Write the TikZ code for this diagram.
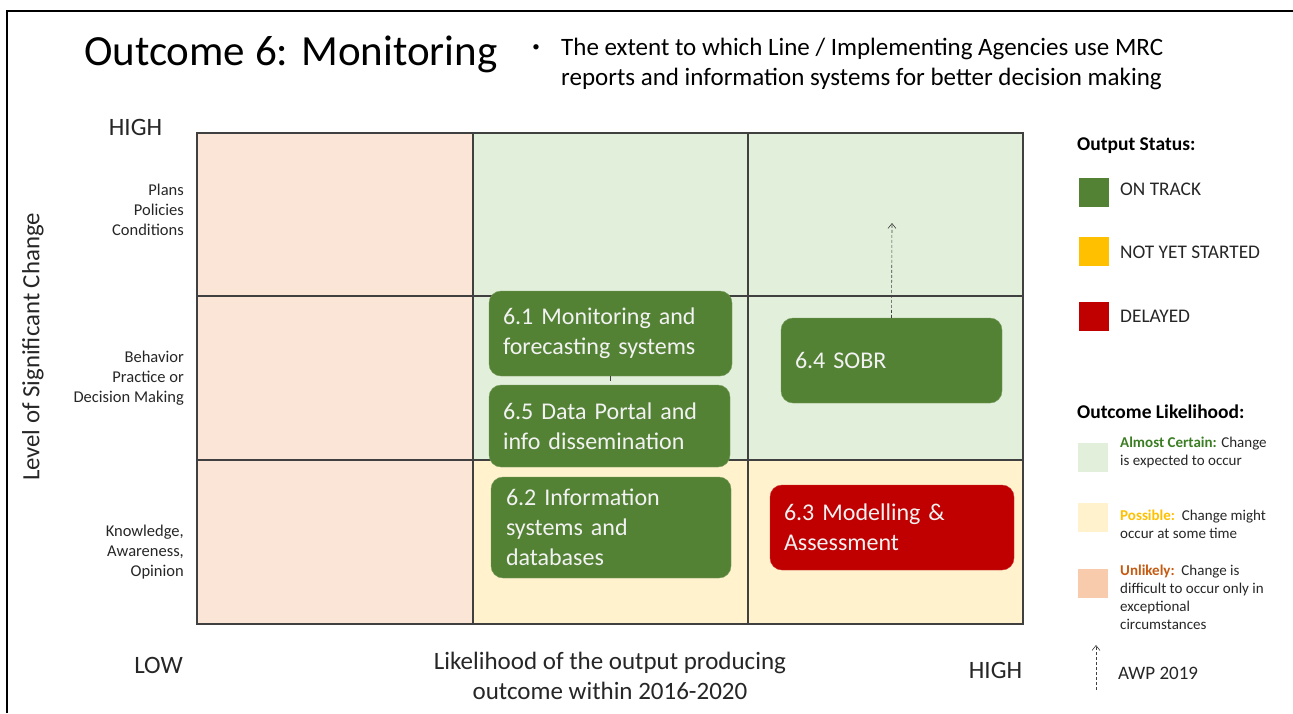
\documentclass[tikz,border=0pt]{standalone}
\usepackage{fontspec}
\setmainfont{Carlito}
\usetikzlibrary{arrows.meta}
\definecolor{ontrack}{HTML}{548235}
\definecolor{delayed}{HTML}{C00000}
\definecolor{notyet}{HTML}{FFC000}
\definecolor{cellgreen}{HTML}{E2EFDA}
\definecolor{cellyellow}{HTML}{FFF2CC}
\definecolor{cellpeach}{HTML}{FBE5D6}
\definecolor{legpeach}{HTML}{F8CBAD}
\definecolor{gridline}{HTML}{404040}
\definecolor{txt}{HTML}{262626}
\definecolor{boxtxt}{HTML}{F2F2F2}
\definecolor{certaincol}{HTML}{3B7D23}
\definecolor{unlikelycol}{HTML}{C55A11}
\tikzset{
  outbox/.style={rounded corners=12pt, inner xsep=14pt, inner ysep=0pt, align=left,
     text=boxtxt, font=\fontsize{24}{30}\selectfont, anchor=center},
  greenbox/.style={outbox, fill=ontrack, draw=ontrack!80!white},
  redbox/.style={outbox, fill=delayed, draw=delayed!80!white},
  plain/.style={inner sep=0pt, text=txt},
  axlab/.style={plain, font=\fontsize{25}{30}\selectfont},
  rowlab/.style={plain, align=right, anchor=east, font=\fontsize{16.5}{20}\selectfont},
  legtxt/.style={plain, anchor=west, font=\fontsize{19.3}{22}\selectfont},
  leghead/.style={plain, anchor=west, text=black, font=\bfseries\fontsize{19.5}{22}\selectfont},
  legsmall/.style={plain, anchor=north west, align=left, font=\fontsize{15}{18}\selectfont},
  awparrow/.style={densely dashed, line width=0.6pt, gridline, -{Straight Barb[length=5pt,width=8pt]}},
}
\begin{document}
\begin{tikzpicture}[x=1pt,y=-1pt]
\useasboundingbox (0,0) rectangle (1293,713);
% frame
\draw[line width=2pt, black] (7,713) -- (7,11) -- (1293,11);
% cells
\fill[cellpeach] (197,133) rectangle (473,624);
\fill[cellgreen] (473,133) rectangle (1023,460);
\fill[cellyellow] (473,460) rectangle (1023,624);
% grid
\draw[gridline, line width=1.3pt] (197,133) rectangle (1023,624);
\draw[gridline, line width=1.3pt] (473,133) -- (473,624) (748,133) -- (748,624)
  (197,296) -- (1023,296) (197,460) -- (1023,460);
% title
\node[plain, text=black, anchor=west, font=\fontsize{43}{50}\selectfont] (title) at (84,54) {Outcome 6: Monitoring};
\node[plain, text=black, anchor=center, font=\fontsize{15}{20}\selectfont] (bullet) at (536,48) {•};
\node[plain, text=black, anchor=west, align=left, font=\fontsize{25}{30}\selectfont] (sub) at (561,64)
  {The extent to which Line / Implementing Agencies use MRC\\reports and information systems for better decision making};
% axes labels
\node[axlab] (yhigh) at (135.5,127) {HIGH};
\node[axlab] (ylow) at (158.5,665) {LOW};
\node[axlab] (xhigh) at (995.5,670) {HIGH};
\node[axlab, align=center] (xlab) at (610,676)
  {Likelihood of the output producing\\outcome within 2016-2020};
\node[plain, rotate=90, font=\fontsize{24.8}{30}\selectfont] (ylab) at (33,347) {Level of Significant Change};
\node[rowlab] (r1) at (184,210) {Plans\\Policies\\Conditions};
\node[rowlab] (r2) at (184,378) {Behavior\\Practice or\\Decision Making};
\node[rowlab] (r3) at (184,552) {Knowledge,\\Awareness,\\Opinion};
% outputs
\node[greenbox, minimum width=243pt, minimum height=85pt, text width=215pt] (o61) at (610.5,333.5)
  {6.1 Monitoring and\\forecasting systems};
\node[greenbox, minimum width=241pt, minimum height=82pt, text width=213pt] (o65) at (609.5,426)
  {6.5 Data Portal and\\info dissemination};
\node[greenbox, minimum width=240pt, minimum height=101pt, text width=210pt, inner xsep=15pt] (o62) at (611,527.5)
  {6.2 Information\\systems and\\databases};
\node[greenbox, minimum width=221pt, minimum height=85pt, text width=193pt] (o64) at (891.5,360.5)
  {6.4 SOBR};
\node[redbox, minimum width=244pt, minimum height=85pt, text width=216pt] (o63) at (892,527.5)
  {6.3 Modelling \&\\Assessment};
\coordinate (awpend) at (892,223);
\draw[awparrow] (o64.north) -- (awpend);
\coordinate (tickend) at (610.5,381);
\draw[gridline, line width=0.8pt] (o61.south) -- (tickend);
% legend
\node[leghead] (ostat) at (1077,146) {Output Status:};
\fill[ontrack] (1079,178) rectangle (1109,207);
\fill[notyet] (1079,237) rectangle (1109,266);
\fill[delayed] (1079,302) rectangle (1109,331);
\node[legtxt] (lon) at (1120,189) {ON TRACK};
\node[legtxt] (lny) at (1120,252) {NOT YET STARTED};
\node[legtxt] (ldel) at (1120,316) {DELAYED};
\node[leghead] (olike) at (1077,412) {Outcome Likelihood:};
\fill[cellgreen] (1078,443) rectangle (1108,472);
\fill[cellyellow] (1078,503) rectangle (1108,532);
\fill[legpeach] (1078,569) rectangle (1108,598);
\node[legsmall] (lcert) at (1120,437) {\textcolor{certaincol}{\textbf{Almost Certain:}} Change\\is expected to occur};
\node[legsmall] (lposs) at (1120,510) {\textcolor{notyet}{\textbf{Possible:}}\ \ Change might\\occur at some time};
\node[legsmall] (lunl) at (1120,565) {\textcolor{unlikelycol}{\textbf{Unlikely:}}\ \ Change is\\difficult to occur only in\\exceptional\\circumstances};
\coordinate (legarrowstart) at (1096,690);
\coordinate (legarrowend) at (1096,645);
\draw[awparrow] (legarrowstart) -- (legarrowend);
\node[plain, anchor=west, font=\fontsize{19}{22}\selectfont] (lawp) at (1118,673) {AWP 2019};
\end{tikzpicture}
\end{document}
